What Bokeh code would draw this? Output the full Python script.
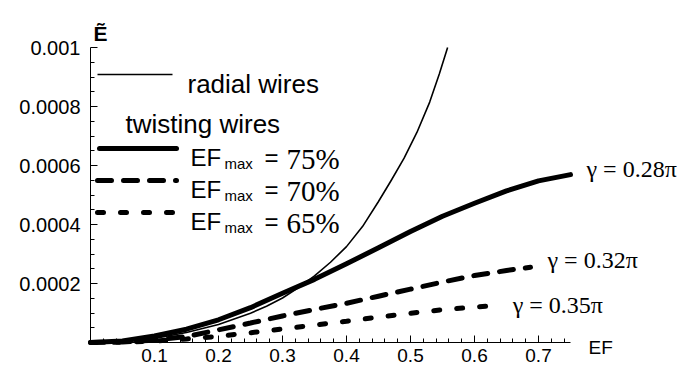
from bokeh.plotting import figure
from bokeh.models import Range1d, FixedTicker, CustomJSTickFormatter, Label
from bokeh.embed import file_html
from bokeh.resources import INLINE

# ---------------- data ----------------
radial_x = [0, 0.05, 0.1, 0.15, 0.2, 0.25, 0.275, 0.3, 0.325, 0.35, 0.375, 0.4, 0.425, 0.45, 0.47, 0.49,
            0.51, 0.53, 0.545, 0.558]
radial_y = [0, 0.000003, 0.000014, 0.000034, 0.000061, 0.000099, 0.000123, 0.000151, 0.000186, 0.000226,
            0.000272, 0.000325, 0.000393, 0.000478, 0.000550, 0.000625, 0.000712, 0.000815, 0.000910,
            0.001000]

ef75_x = [0, 0.05, 0.1, 0.15, 0.2, 0.25, 0.3, 0.35, 0.4, 0.45, 0.5, 0.55, 0.6, 0.65, 0.7, 0.75]
ef75_y = [0, 0.000005, 0.000022, 0.000045, 0.000077, 0.000118, 0.000167, 0.000214, 0.000267,
          0.000321, 0.000376, 0.000428, 0.000472, 0.000514, 0.000548, 0.000569]

ef70_x = [0, 0.05, 0.1, 0.15, 0.2, 0.25, 0.3, 0.35, 0.4, 0.45, 0.5, 0.55, 0.6, 0.65, 0.6875]
ef70_y = [0, 0.000002, 0.000008, 0.000020, 0.000043, 0.000066, 0.000090, 0.000112, 0.000133,
          0.000157, 0.000181, 0.000205, 0.000227, 0.000244, 0.000255]

ef65_x = [0, 0.05, 0.1, 0.15, 0.2, 0.25, 0.3, 0.35, 0.4, 0.45, 0.5, 0.55, 0.6, 0.63]
ef65_y = [0, 0.000001, 0.000005, 0.000012, 0.000021, 0.000033, 0.000046, 0.000059, 0.000072,
          0.000086, 0.000099, 0.000111, 0.000120, 0.000125]

gamma_labels = ["\u03b3 = 0.28\u03c0", "\u03b3 = 0.32\u03c0", "\u03b3 = 0.35\u03c0"]
legend_pcts = ["75%", "70%", "65%"]
legend_radial = "radial wires"
legend_twist = "twisting wires"

x_ticks = [0.1, 0.2, 0.3, 0.4, 0.5, 0.6, 0.7]
x_minor = [0.02, 0.04, 0.06, 0.08, 0.12, 0.14, 0.16, 0.18, 0.22, 0.24, 0.26, 0.28, 0.32, 0.34, 0.36,
           0.38, 0.42, 0.44, 0.46, 0.48, 0.52, 0.54, 0.56, 0.58, 0.62, 0.64, 0.66, 0.68, 0.72, 0.74]
y_ticks = [0.0002, 0.0004, 0.0006, 0.0008, 0.001]
y_minor = [0.00005, 0.0001, 0.00015, 0.00025, 0.0003, 0.00035, 0.00045, 0.0005, 0.00055,
           0.00065, 0.0007, 0.00075, 0.00085, 0.0009, 0.00095]
x_axis_max = 0.75
y_axis_max = 0.001

# ---------------- layout ----------------
W, H = 680, 373
ORIGIN_X, ORIGIN_Y = 90, 342      # pixel position of the data origin
PX_PER_X = 640.0
PX_PER_Y = 295000.0


def px2x(px):
    return (px - ORIGIN_X) / PX_PER_X


def px2y(py):
    return (ORIGIN_Y - py) / PX_PER_Y


p = figure(width=W, height=H,
           x_range=Range1d(px2x(0), px2x(W)), y_range=Range1d(px2y(H), px2y(0)),
           output_backend="svg", toolbar_location=None,
           min_border_left=0, min_border_right=0, min_border_top=0, min_border_bottom=0)
p.outline_line_color = None
p.grid.visible = False
p.background_fill_color = "white"
p.border_fill_color = "white"

xa = p.xaxis[0]
xa.fixed_location = 0
xa.bounds = (0, x_axis_max)
xa.ticker = FixedTicker(ticks=x_ticks, minor_ticks=x_minor)
xa.formatter = CustomJSTickFormatter(code="return tick.toFixed(1);")
ya = p.yaxis[0]
ya.fixed_location = 0
ya.bounds = (0, y_axis_max)
ya.ticker = FixedTicker(ticks=y_ticks, minor_ticks=y_minor)
ya.formatter = CustomJSTickFormatter(code="return tick.toFixed(4).replace(/0+$/, '');")
for ax in (xa, ya):
    ax.major_tick_in = 7
    ax.major_tick_out = 0
    ax.minor_tick_in = 4
    ax.minor_tick_out = 0
    ax.axis_line_color = "black"
    ax.major_tick_line_color = "black"
    ax.minor_tick_line_color = "black"
    ax.major_label_text_font = "Liberation Sans"
    ax.major_label_text_color = "black"
xa.major_label_text_font_size = "19px"
ya.major_label_text_font_size = "20px"
xa.major_label_standoff = 6
ya.major_label_standoff = 10

# ---------------- curves ----------------
p.line(radial_x, radial_y, line_color="black", line_width=1.6, line_join="round")
p.line(ef75_x, ef75_y, line_color="black", line_width=5, line_cap="round", line_join="round")
p.line(ef70_x, ef70_y, line_color="black", line_width=5, line_cap="round", line_dash="14 12")
p.line(ef65_x, ef65_y, line_color="black", line_width=5, line_cap="round", line_dash="6 17")

# gamma labels at the curve ends
ends = [(ef75_x[-1], ef75_y[-1], 16, 6), (ef70_x[-1], ef70_y[-1], 17, 7), (ef65_x[-1], ef65_y[-1], 19, 1)]
for (ex, ey, dx, dy), txt in zip(ends, gamma_labels):
    p.add_layout(Label(x=ex, y=ey, x_offset=dx, y_offset=dy, text=txt, text_font="Liberation Serif",
                       text_font_size="24px", text_baseline="middle", text_align="left",
                       text_color="black"))

# ---------------- legend ----------------
L0, L1 = 97, 172
p.line([px2x(L0), px2x(L1)], [px2y(74), px2y(74)], line_color="black", line_width=1.6)
p.add_layout(Label(x=px2x(187), y=px2y(83), text=legend_radial, text_font="Liberation Sans",
                   text_font_size="26px", text_baseline="alphabetic", text_color="black"))
p.add_layout(Label(x=px2x(125), y=px2y(123), text=legend_twist, text_font="Liberation Sans",
                   text_font_size="26px", text_baseline="alphabetic", text_color="black"))

rows = [148, 180, 212]
styles = [None, "14 12", "6 17"]
for cy, dash, pct in zip(rows, styles, legend_pcts):
    kw = dict(line_color="black", line_width=5, line_cap="round")
    if dash:
        kw["line_dash"] = dash
        p.line([px2x(L0), px2x(L1 + 4)], [px2y(cy), px2y(cy)], **kw)
    else:
        p.line([px2x(L0 + 2), px2x(L1 + 4)], [px2y(cy), px2y(cy)], **kw)
    p.add_layout(Label(x=px2x(190), y=px2y(cy + 9), text="EF", text_font="Liberation Sans",
                       text_font_size="24px", text_baseline="alphabetic", text_color="black"))
    p.add_layout(Label(x=px2x(224), y=px2y(cy + 15), text="max", text_font="Liberation Sans",
                       text_font_size="15px", text_baseline="alphabetic", text_color="black"))
    p.add_layout(Label(x=px2x(264), y=px2y(cy + 9), text="=", text_font="Liberation Sans",
                       text_font_size="24px", text_baseline="alphabetic", text_color="black"))
    p.add_layout(Label(x=px2x(286), y=px2y(cy + 10), text=pct, text_font="Liberation Serif",
                       text_font_size="29px", text_baseline="alphabetic", text_color="black"))

# axis titles
p.add_layout(Label(x=px2x(93), y=px2y(33), text="\u1ebc", text_font="Liberation Sans",
                   text_font_size="21px", text_font_style="bold", text_baseline="alphabetic",
                   text_color="black"))
p.add_layout(Label(x=px2x(588), y=px2y(347), text="EF", text_font="Liberation Sans",
                   text_font_size="19px", text_baseline="alphabetic", text_color="black"))

open("out.html", "w").write(file_html(p, INLINE))
